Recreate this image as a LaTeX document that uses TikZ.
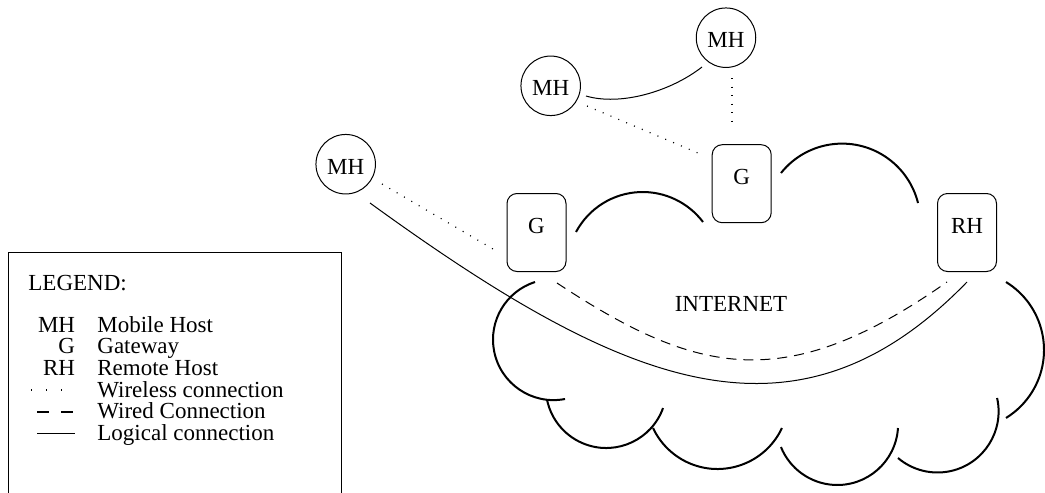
\documentclass[tikz,border=0pt]{standalone}
\usepackage{fontspec}
\setmainfont{Liberation Serif}
\usetikzlibrary{calc}
\tikzset{
  host/.style={circle, draw, line width=0.5pt, minimum size=29.75pt, inner sep=0pt,
               text height=10.1pt, text depth=0pt},
  relay/.style={rectangle, rounded corners=5pt, draw, line width=0.5pt,
                minimum width=29.5pt, minimum height=39pt, inner sep=0pt,
                text height=7.6pt, text depth=6.5pt},
  cloudarc/.style={line width=1pt},
  wireless/.style={line width=0.6pt, dash pattern=on 0.5pt off 3.75pt},
  wired/.style={line width=0.5pt, dash pattern=on 5pt off 3.5pt},
  logical/.style={line width=0.5pt},
  legendtext/.style={inner sep=0pt, anchor=base west},
  legendkey/.style={inner sep=0pt, anchor=base east},
}
\begin{document}
\begin{tikzpicture}[x=0.5pt, y=-0.5pt, font=\fontsize{11.5}{13}\selectfont]
\useasboundingbox (0,0) rectangle (1045,493);
\clip (0,0) rectangle (1045,493);

% hosts and gateways
\node[host]  (mhtop)  at (726,37.7)    {MH};
\node[host]  (mhmid)  at (550.7,85.8)  {MH};
\node[host]  (mhleft) at (345.7,164.2) {MH};
\node[relay] (gtop)   at (741.7,183.7) {G};
\node[relay] (gleft)  at (536.5,232.5) {G};
\node[relay] (rh)     at (967,232.5)   {RH};

% the internet cloud, drawn as open arcs
\draw[cloudarc] (642.7,267.6) ++(-151.9:75.6) arc[start angle=-151.9, end angle=-37.1, radius=75.6];
\draw[cloudarc] (842.1,221.8) ++(-141.4:78.2) arc[start angle=-141.4, end angle=-13.9, radius=78.2];
\draw[cloudarc] (964.2,350)   ++(-58.4:79.8)  arc[start angle=-58.4,  end angle=58.4,   radius=79.8];
\draw[cloudarc] (937.5,411.4) ++(-12.7:61.1)  arc[start angle=-12.7,  end angle=130.3,  radius=61.1];
\draw[cloudarc] (837.3,424.2) ++(3.6:60.8)    arc[start angle=3.6,    end angle=157.9,  radius=60.8];
\draw[cloudarc] (717.5,397.8) ++(25.1:71.2)   arc[start angle=25.1,   end angle=154.9,  radius=71.2];
\draw[cloudarc] (606.2,387.6) ++(19.8:60.4)   arc[start angle=19.8,   end angle=168.2,  radius=60.4];
\draw[cloudarc] (553.5,339.6) ++(79:60.5)     arc[start angle=79,     end angle=252.2,  radius=60.5];

\node[inner sep=0pt, anchor=base] (net) at (731,311.7) {INTERNET};

% connections
\draw[logical] ($(mhmid)+(35.3,10.2)$) .. controls +(34,10) and +(-32,25) .. ($(mhtop)+(-24,29.3)$);
\draw[wireless] ($(mhtop)+(6,40.3)$) -- ($(gtop)+(-9.7,-55.7)$);
\draw[wireless] ($(mhmid)+(36.3,20.2)$) -- ($(gtop)+(-43.7,-30.7)$);
\draw[wireless] ($(mhleft)+(36.3,19.8)$) -- ($(gleft)+(-43.5,16.5)$);
\draw[wired] ($(gleft)+(20.5,50.5)$) .. controls +(141,93) and +(-161,113) .. ($(rh)+(-20,49.5)$);
\draw[logical] ($(mhleft)+(24.3,38.8)$) .. controls +(255,185) and +(-171,176) .. ($(rh)+(0,49.5)$);

% legend
\draw[line width=0.5pt] (8,500) -- (8,252) -- (341,252) -- (341,500);
\node[legendtext] (lgtitle) at (28,290.7) {LEGEND:};
\node[legendkey]  (k1) at (75.5,332)   {MH};
\node[legendtext] (t1) at (97,332)     {Mobile Host};
\node[legendkey]  (k2) at (75.5,353.7) {G};
\node[legendtext] (t2) at (97,353.7)   {Gateway};
\node[legendkey]  (k3) at (75.5,375.4) {RH};
\node[legendtext] (t3) at (97,375.4)   {Remote Host};
\draw[line width=0.6pt, dash pattern=on 0.6pt off 6.9pt] (31,390) -- (62,390);
\node[legendtext] (t4) at (97,397)     {Wireless connection};
\draw[line width=0.8pt, dash pattern=on 6pt off 6pt] (37,411.7) -- (73,411.7);
\node[legendtext] (t5) at (97,418.8)   {Wired Connection};
\draw[line width=0.6pt] (37,433.3) -- (75,433.3);
\node[legendtext] (t6) at (97,440.5)   {Logical connection};
\end{tikzpicture}
\end{document}
